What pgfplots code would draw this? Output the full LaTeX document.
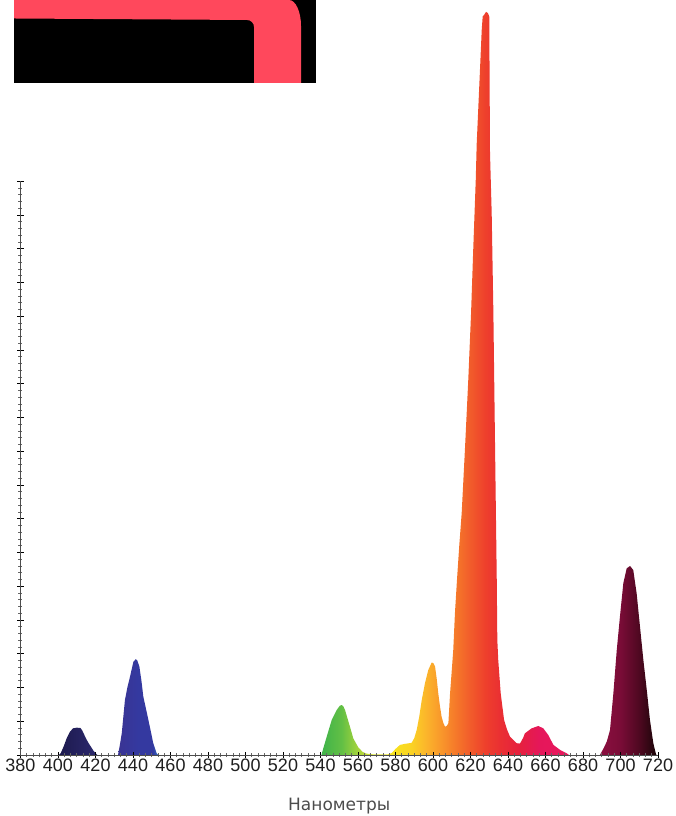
\documentclass[border=0pt]{standalone}
\usepackage{pgfplots}
\pgfplotsset{compat=1.18}
\usepackage{fontspec}
\newfontfamily\tickfont{Liberation Sans}
\newfontfamily\labfont{DejaVu Sans}

% spectrum colours
\definecolor{pinkc}{RGB}{255,72,92}
\definecolor{violA}{RGB}{29,26,78}
\definecolor{violB}{RGB}{44,41,110}
\definecolor{blueA}{RGB}{58,52,147}
\definecolor{blueB}{RGB}{52,57,160}
\definecolor{blueC}{RGB}{45,108,192}
\definecolor{grA}{RGB}{63,179,74}
\definecolor{grB}{RGB}{98,191,69}
\definecolor{grC}{RGB}{152,208,61}
\definecolor{grD}{RGB}{200,221,56}
\definecolor{grE}{RGB}{233,226,42}
\definecolor{wA}{RGB}{246,230,30}
\definecolor{wB}{RGB}{250,213,35}
\definecolor{wC}{RGB}{251,181,43}
\definecolor{wD}{RGB}{249,152,43}
\definecolor{wE}{RGB}{245,120,42}
\definecolor{wF}{RGB}{241,90,43}
\definecolor{wG}{RGB}{238,63,44}
\definecolor{wH}{RGB}{234,47,51}
\definecolor{wI}{RGB}{230,32,63}
\definecolor{wJ}{RGB}{229,23,90}
\definecolor{wK}{RGB}{232,24,94}
\definecolor{rA}{RGB}{140,15,64}
\definecolor{rB}{RGB}{122,12,55}
\definecolor{rC}{RGB}{77,8,32}
\definecolor{rD}{RGB}{26,5,8}

\pgfdeclarehorizontalshading{blueband}{100bp}{color(0bp)=(blueA); color(25bp)=(blueA); color(50bp)=(blueB); color(68bp)=(blueB); color(75bp)=(blueC); color(100bp)=(blueC)}
\pgfdeclarehorizontalshading{greenband}{100bp}{color(0bp)=(grA); color(25bp)=(grA); color(40bp)=(grB); color(50bp)=(grC); color(60bp)=(grD); color(75bp)=(grE); color(100bp)=(grE)}
\pgfdeclarehorizontalshading{warmband}{100bp}{color(0bp)=(wA); color(25bp)=(wA); color(31bp)=(wB); color(35.5bp)=(wC); color(39.5bp)=(wD); color(43.8bp)=(wE); color(48bp)=(wF); color(52bp)=(wG); color(56bp)=(wH); color(61.5bp)=(wI); color(66.7bp)=(wJ); color(75bp)=(wK); color(100bp)=(wK)}
\pgfdeclarehorizontalshading{redband}{100bp}{color(0bp)=(rA); color(25bp)=(rA); color(43bp)=(rB); color(60bp)=(rC); color(75bp)=(rD); color(100bp)=(rD)}

\begin{document}
\begin{tikzpicture}[x=1pt,y=1pt]
\useasboundingbox (0,0) rectangle (676,816);
% cropped frame in the upper left corner
\fill[black] (14,733) rectangle (316,816);
\fill[pinkc] (14,816) -- (289,816) arc[start angle=90,end angle=0,x radius=12,y radius=26]
  -- (301,733) -- (254,733) -- (254,789) arc[start angle=0,end angle=90,radius=7]
  -- (14,797.5) -- cycle;

\begin{axis}[
    at={(20.5pt,61pt)}, anchor=south west,
    scale only axis, width=637.5pt, height=573.75pt,
    xmin=380, xmax=720, ymin=0, ymax=17,
    clip=false, axis on top,
    axis x line=bottom, axis y line=left,
    axis line style={-, draw=gray!60!black, line width=1pt},
    xtick distance=20, minor x tick num=5,
    ytick distance=1, minor y tick num=4,
    yticklabels={},
    tick align=center,
    major tick length=6pt, minor tick length=4pt,
    major tick style={black, line width=0.9pt},
    minor tick style={gray!80!black, line width=0.8pt},
    /pgf/number format/assume math mode=true,
    xticklabel style={font=\tickfont\fontsize{18}{18}\selectfont, text=black!88, inner sep=1pt},
    xlabel={Нанометры},
    every axis x label/.style={at={(axis description cs:0.5,0)}, anchor=center, yshift=-51pt,
        font=\labfont\fontsize{17}{17}\selectfont, text=black!70},
]
% 410 nm
\addplot[draw=none, left color=violA, right color=violB] coordinates {
 (400.5,0) (401.5,0.06) (403,0.25) (404.6,0.49) (406.4,0.69) (408,0.79) (410,0.81)
 (412,0.80) (413,0.72) (414.5,0.54) (416,0.38) (417.5,0.25) (419,0.12) (420.5,0.03) (421,0)
} \closedcycle;
% 441 nm
\addplot[draw=none, shade, shading=blueband] coordinates {
 (432,0) (433,0.3) (434,0.64) (435.7,1.63) (437,2.0) (438.4,2.32) (440.2,2.76) (441.5,2.84)
 (442.3,2.80) (443.4,2.62) (444.5,2.2) (445.5,1.73) (447,1.35) (448.2,1.04) (449.5,0.7)
 (450.8,0.35) (452.6,0.05) (453.5,0)
} \closedcycle;
% 550 nm
\addplot[draw=none, shade, shading=greenband] coordinates {
 (540.5,0) (541.5,0.2) (543.3,0.54) (544.7,0.8) (546,1.04) (548.6,1.33) (550.3,1.46)
 (551.3,1.48) (552.2,1.44) (553.1,1.33) (555.7,0.84) (557.5,0.49) (560.2,0.22)
 (562.5,0.09) (564.6,0.04) (568,0.02) (576,0.02)
} \closedcycle;
% 580-672 nm
\addplot[draw=none, shade, shading=warmband] coordinates {
 (576,0.02) (578,0.06) (580,0.18) (582.4,0.30) (585,0.33) (588.6,0.36) (590,0.5)
 (591.3,0.74) (592.7,1.15) (594,1.63) (595.7,2.12) (597.5,2.52) (599.3,2.74) (600.2,2.72)
 (601.1,2.62) (602,2.25) (602.8,1.83) (603.7,1.45) (604.6,1.13) (605.5,0.95) (606.4,0.84)
 (607.3,0.86) (608.2,0.94) (609.1,1.83) (610,2.5) (610.8,3.11) (611.7,4.2) (612.8,5.2)
 (614,6.2) (615.3,7.17) (617.1,9.13) (618.8,11.1) (620.3,13.1) (621.5,15.05) (622.8,17.04)
 (623.3,18.1) (624.7,19.85) (626,21.5) (626.5,21.88) (627.5,21.95) (628.3,22.02)
 (629.3,21.98) (630,21.88) (630.4,17.84) (631.3,16.05) (632.2,13.1) (633.1,9.1) (634,5.2)
 (634.3,3.41) (634.8,2.81) (636.1,1.83) (637.9,1.04) (639.5,0.75) (641.1,0.54) (644.6,0.35)
 (646.4,0.34) (648,0.5) (649,0.64) (652.6,0.79) (656.2,0.86) (658.8,0.79) (661.5,0.59)
 (664.2,0.30) (667.8,0.15) (671.3,0.05) (672.5,0)
} \closedcycle;
% 705 nm
\addplot[draw=none, shade, shading=redband] coordinates {
 (689,0) (691,0.2) (692.7,0.4) (694.4,0.74) (696.2,1.83) (698,3.11) (699.7,4.1) (701.5,5.09)
 (703.3,5.53) (705.1,5.6) (706.8,5.48) (708.6,4.79) (710.4,3.8) (712.2,2.81) (714,1.93)
 (715.7,1.04) (717.5,0.35) (718.9,0.03) (719.2,0)
} \closedcycle;
\end{axis}
\end{tikzpicture}
\end{document}
